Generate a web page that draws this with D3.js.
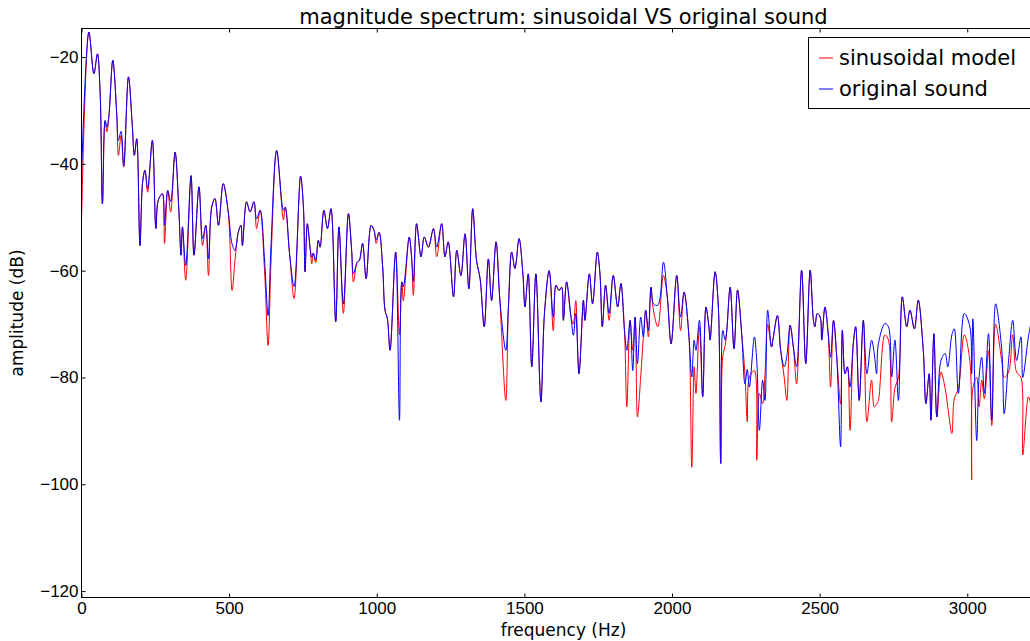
<!DOCTYPE html>
<html>
<head>
<meta charset="utf-8">
<script src="https://cdn.jsdelivr.net/npm/d3@7"></script>
<style>
  html, body { margin: 0; padding: 0; background: #fff; }
  svg { display: block; font-family: "DejaVu Sans", sans-serif; }
</style>
</head>
<body>
<svg id="chart" width="1030" height="641"></svg>
<script>
// Frequency bins (Hz) shared by both spectra
const freqHz = [
  0, 25, 42, 54, 63, 71, 80, 86, 93, 106, 119, 125, 134, 143, 159, 172, 179, 187, 198, 207,
  215, 224, 240, 252, 260, 274, 281, 292, 302, 317, 330, 337, 342, 353, 371, 381, 398, 410, 421, 430,
  441, 452, 464, 480, 497, 510, 520, 531, 540, 545, 559, 571, 584, 593, 605, 620, 632, 642, 661, 684,
  690, 705, 720, 742, 752, 757, 765, 774, 780, 785, 793, 802, 808, 821, 833, 845, 861, 872, 887, 904,
  915, 921, 934, 941, 952, 964, 981, 991, 998, 1008, 1020, 1028, 1036, 1045, 1064, 1077, 1085, 1090, 1110, 1118,
  1124, 1135, 1150, 1161, 1175, 1192, 1203, 1220, 1231, 1242, 1260, 1271, 1285, 1299, 1312, 1325, 1338, 1350, 1364, 1378,
  1389, 1404, 1417, 1437, 1446, 1457, 1468, 1482, 1495, 1502, 1513, 1525, 1539, 1556, 1568, 1584, 1598, 1607, 1617, 1626,
  1632, 1643, 1658, 1666, 1674, 1685, 1700, 1705, 1720, 1731, 1747, 1756, 1764, 1775, 1787, 1801, 1816, 1827, 1839, 1847,
  1858, 1867, 1875, 1883, 1894, 1903, 1911, 1920, 1929, 1937, 1952, 1971, 1984, 1997, 2016, 2029, 2041, 2057, 2067, 2075,
  2081, 2093, 2104, 2115, 2125, 2129, 2146, 2157, 2165, 2172, 2180, 2185, 2197, 2210, 2222, 2236, 2247, 2255, 2262, 2279,
  2287, 2296, 2307, 2315, 2324, 2337, 2343, 2357, 2368, 2380, 2389, 2400, 2411, 2422, 2439, 2453, 2468, 2479, 2484, 2492,
  2502, 2507, 2518, 2529, 2537, 2547, 2558, 2571, 2577, 2586, 2594, 2603, 2614, 2622, 2634, 2648, 2660, 2676, 2685, 2693,
  2699, 2721, 2733, 2744, 2755, 2767, 2780, 2795, 2806, 2821, 2834, 2851, 2860, 2871, 2877, 2887, 2897, 2911, 2925, 2934,
  2948, 2956, 2970, 2990, 3009, 3015, 3019, 3032, 3040, 3049, 3058, 3072, 3083, 3096, 3117, 3125, 3140, 3154, 3167, 3182,
  3188, 3207, 3215
];

// Magnitude of the original sound (dB)
const originalDb = [
  -42.2, -15.3, -23.1, -19.4, -26.5, -47.5, -31.9, -33.1, -30.9, -20.6, -30.3, -35.6, -33.9, -40.3, -23.7, -32.8, -38.4, -35.3, -55.3, -43.4,
  -41.2, -44.6, -35.6, -52.1, -46.8, -45.6, -51.5, -45.0, -47.1, -37.8, -49.0, -57.1, -51.8, -59.0, -42.2, -57.1, -44.3, -54.0, -51.5, -57.8,
  -48.1, -46.5, -51.5, -43.7, -49.0, -55.0, -56.2, -52.8, -51.5, -55.3, -47.1, -49.0, -47.1, -50.3, -48.7, -58.0, -68.4, -55.0, -37.5, -48.7,
  -48.1, -57.0, -63.0, -42.3, -48.5, -60.2, -51.2, -55.6, -57.5, -56.7, -58.0, -54.3, -55.6, -48.7, -52.1, -48.4, -69.6, -51.8, -66.2, -49.3,
  -56.2, -60.6, -58.4, -58.1, -54.9, -61.5, -51.5, -52.5, -54.2, -52.8, -59.3, -67.4, -69.0, -74.9, -56.5, -88.0, -62.1, -63.0, -53.7, -57.5,
  -62.0, -51.2, -57.4, -53.7, -55.6, -52.1, -55.6, -51.2, -57.4, -54.6, -64.9, -56.2, -60.9, -53.1, -63.4, -48.4, -58.1, -61.5, -70.5, -57.8,
  -65.6, -54.6, -65.5, -74.9, -66.8, -56.5, -59.6, -54.0, -60.6, -66.8, -60.6, -78.0, -60.6, -84.6, -68.0, -60.0, -68.7, -62.7, -63.7, -63.1,
  -69.3, -62.1, -68.7, -72.1, -68.0, -79.3, -65.5, -69.3, -60.6, -66.2, -56.5, -60.6, -70.5, -62.7, -68.0, -60.9, -66.8, -62.4, -71.2, -74.9,
  -69.3, -78.7, -68.7, -77.4, -68.7, -72.4, -67.4, -71.2, -63.1, -66.2, -66.5, -58.4, -64.9, -73.7, -60.9, -68.7, -64.0, -72.0, -79.9, -73.0,
  -74.9, -69.3, -83.6, -66.8, -70.5, -73.0, -60.2, -66.8, -96.1, -71.2, -73.0, -71.5, -63.1, -74.6, -63.6, -71.8, -81.2, -78.5, -81.8, -72.4,
  -76.8, -89.9, -80.5, -84.3, -67.4, -74.3, -72.5, -68.4, -74.9, -78.0, -76.0, -70.2, -74.3, -78.0, -59.9, -77.4, -59.9, -69.3, -70.5, -68.0,
  -68.7, -73.0, -66.8, -71.8, -76.2, -69.3, -76.2, -93.0, -71.2, -79.3, -78.0, -81.8, -73.7, -70.5, -84.3, -69.3, -79.3, -73.0, -75.5, -79.3,
  -73.7, -69.9, -70.5, -79.9, -73.0, -84.3, -64.9, -70.5, -67.4, -70.9, -65.5, -74.9, -84.9, -79.3, -88.0, -71.8, -87.4, -76.8, -75.5, -78.0,
  -72.0, -70.9, -83.0, -68.0, -70.5, -79.3, -69.0, -91.8, -79.9, -76.2, -83.0, -71.8, -88.0, -66.2, -74.9, -86.8, -76.8, -69.3, -76.8, -72.4,
  -80.0, -72.4, -70.0
];

// Magnitude of the sinusoidal model resynthesis (dB)
const sinusoidalDb = [
  -50.9, -15.3, -23.1, -19.4, -26.5, -47.5, -31.9, -34.0, -30.9, -20.6, -30.3, -38.4, -34.7, -40.6, -23.7, -32.8, -38.4, -35.3, -55.3, -43.4,
  -41.2, -45.3, -35.6, -52.1, -46.8, -45.6, -54.9, -45.0, -49.0, -37.8, -49.0, -57.1, -51.8, -61.8, -42.2, -57.1, -44.3, -55.3, -51.5, -60.9,
  -48.1, -46.5, -51.5, -43.7, -49.0, -63.7, -58.0, -52.8, -51.5, -55.3, -47.1, -49.0, -47.1, -52.1, -48.7, -60.0, -74.0, -58.0, -37.5, -50.5,
  -48.1, -57.0, -65.2, -42.3, -48.5, -60.2, -51.2, -55.6, -58.7, -56.7, -58.5, -54.3, -55.6, -48.7, -52.1, -48.4, -69.6, -51.8, -68.0, -49.3,
  -56.2, -62.1, -58.4, -58.1, -54.9, -61.5, -51.5, -52.5, -54.9, -52.8, -59.3, -67.4, -69.0, -74.9, -56.5, -72.0, -62.1, -65.6, -53.7, -57.5,
  -64.6, -51.2, -57.4, -53.7, -55.6, -52.1, -57.4, -51.2, -57.4, -54.6, -64.9, -56.2, -60.9, -53.1, -63.4, -48.4, -58.1, -61.5, -70.5, -57.8,
  -65.6, -54.6, -65.5, -84.3, -66.8, -56.5, -59.6, -54.0, -60.6, -66.8, -60.6, -78.0, -60.6, -84.6, -68.0, -60.0, -71.2, -62.7, -63.7, -63.1,
  -69.3, -62.1, -68.7, -70.0, -65.6, -79.3, -65.5, -69.3, -60.6, -66.2, -56.5, -60.6, -70.5, -62.7, -69.3, -60.9, -66.8, -62.4, -71.2, -85.5,
  -69.3, -74.9, -68.7, -87.4, -79.9, -72.4, -67.4, -72.4, -63.1, -67.4, -70.5, -60.9, -64.9, -73.7, -60.9, -71.2, -64.0, -72.0, -96.8, -78.0,
  -83.0, -70.5, -83.6, -66.8, -70.5, -73.0, -60.2, -66.8, -96.1, -76.0, -74.0, -71.5, -63.1, -74.6, -63.6, -71.8, -79.3, -88.3, -80.0, -78.7,
  -95.5, -83.0, -84.9, -79.3, -70.0, -74.3, -72.5, -68.4, -74.9, -80.0, -84.3, -70.2, -74.3, -81.2, -59.9, -77.4, -59.9, -69.3, -70.5, -68.0,
  -68.7, -73.0, -66.8, -71.8, -81.8, -69.3, -76.2, -85.0, -71.2, -79.3, -78.0, -89.9, -73.7, -70.5, -84.3, -69.3, -88.3, -80.5, -85.5, -85.0,
  -84.3, -72.0, -73.0, -88.3, -82.0, -80.0, -64.9, -70.5, -67.4, -70.9, -65.5, -74.9, -84.9, -79.3, -88.0, -71.8, -87.4, -79.0, -82.0, -85.5,
  -90.5, -84.0, -82.0, -72.0, -77.0, -99.2, -82.0, -80.0, -85.5, -80.5, -84.0, -75.0, -89.0, -70.0, -77.0, -80.0, -79.0, -72.0, -79.0, -80.0,
  -94.5, -83.6, -85.0
];

const xTicks = [0, 500, 1000, 1500, 2000, 2500, 3000];
const yTicks = [-120, -100, -80, -60, -40, -20];
const seriesNames = ["sinusoidal model", "original sound"];
const seriesColors = ["#ff0000", "#0000ff"];

const svg = d3.select("#chart");

// Plot frame (right edge runs past the visible canvas)
const frameL = 81.5, frameR = 1045.5, frameT = 28.5, frameB = 597.5;

const x = d3.scaleLinear().domain([0, 3265]).range([frameL, frameR]);
const y = d3.scaleLinear().domain([-121.2, -14.65]).range([frameB, frameT]);

// Spectrum lines, clipped to the plot frame
svg.append("clipPath").attr("id", "plotClip")
  .append("rect").attr("x", frameL).attr("y", frameT)
  .attr("width", frameR - frameL).attr("height", frameB - frameT);

const line = d3.line()
  .x((d, i) => x(freqHz[i]))
  .y(d => y(d))
  .curve(d3.curveCatmullRom.alpha(0.5));

const plot = svg.append("g").attr("clip-path", "url(#plotClip)");
[sinusoidalDb, originalDb].forEach((vals, k) => {
  plot.append("path")
    .attr("d", line(vals))
    .attr("fill", "none")
    .attr("stroke", seriesColors[k])
    .attr("stroke-width", 1)
    .attr("stroke-linejoin", "round");
});

// Axes with inward ticks on all four sides
const fmt = d3.format("d");
const axisStyle = g => {
  g.select(".domain").remove();
  g.selectAll(".tick line").attr("stroke", "#000");
  g.selectAll(".tick text").attr("fill", "#000").style("font-size", "17px");
};

svg.append("g").attr("transform", `translate(0,${frameB})`)
  .call(d3.axisBottom(x).tickValues(xTicks).tickFormat(fmt).tickSizeInner(-4).tickSizeOuter(0).tickPadding(4))
  .call(axisStyle);
svg.append("g").attr("transform", `translate(0,${frameT})`)
  .call(d3.axisTop(x).tickValues(xTicks).tickFormat("").tickSizeInner(-4).tickSizeOuter(0))
  .call(axisStyle);
svg.append("g").attr("transform", `translate(${frameL},0)`)
  .call(d3.axisLeft(y).tickValues(yTicks).tickFormat(fmt).tickSizeInner(-4).tickSizeOuter(0).tickPadding(3))
  .call(axisStyle);
svg.append("g").attr("transform", `translate(${frameR},0)`)
  .call(d3.axisRight(y).tickValues(yTicks).tickFormat("").tickSizeInner(-4).tickSizeOuter(0))
  .call(axisStyle);

svg.append("rect")
  .attr("x", frameL).attr("y", frameT)
  .attr("width", frameR - frameL).attr("height", frameB - frameT)
  .attr("fill", "none").attr("stroke", "#000").attr("stroke-width", 1);

// Title and axis labels
const cx = (frameL + frameR) / 2;
svg.append("text").attr("x", cx).attr("y", 24)
  .attr("text-anchor", "middle").style("font-size", "21px")
  .text("magnitude spectrum: sinusoidal VS original sound");
svg.append("text").attr("x", cx).attr("y", 636)
  .attr("text-anchor", "middle").style("font-size", "17px")
  .text("frequency (Hz)");
svg.append("text")
  .attr("transform", `translate(23,${(frameT + frameB) / 2}) rotate(-90)`)
  .attr("text-anchor", "middle").style("font-size", "17px")
  .text("amplitude (dB)");

// Legend
const lg = svg.append("g").attr("transform", "translate(808,37)");
lg.append("rect").attr("x", 0.5).attr("y", 0.5).attr("width", 232).attr("height", 71)
  .attr("fill", "#fff").attr("stroke", "#000").attr("stroke-width", 1);
seriesNames.forEach((name, i) => {
  const yy = 21 + i * 31;
  lg.append("line").attr("x1", 11).attr("x2", 25).attr("y1", yy).attr("y2", yy)
    .attr("stroke", seriesColors[i]).attr("stroke-width", 1);
  lg.append("text").attr("x", 31).attr("y", yy).attr("dy", "0.35em")
    .style("font-size", "21px").text(name);
});
</script>
</body>
</html>
